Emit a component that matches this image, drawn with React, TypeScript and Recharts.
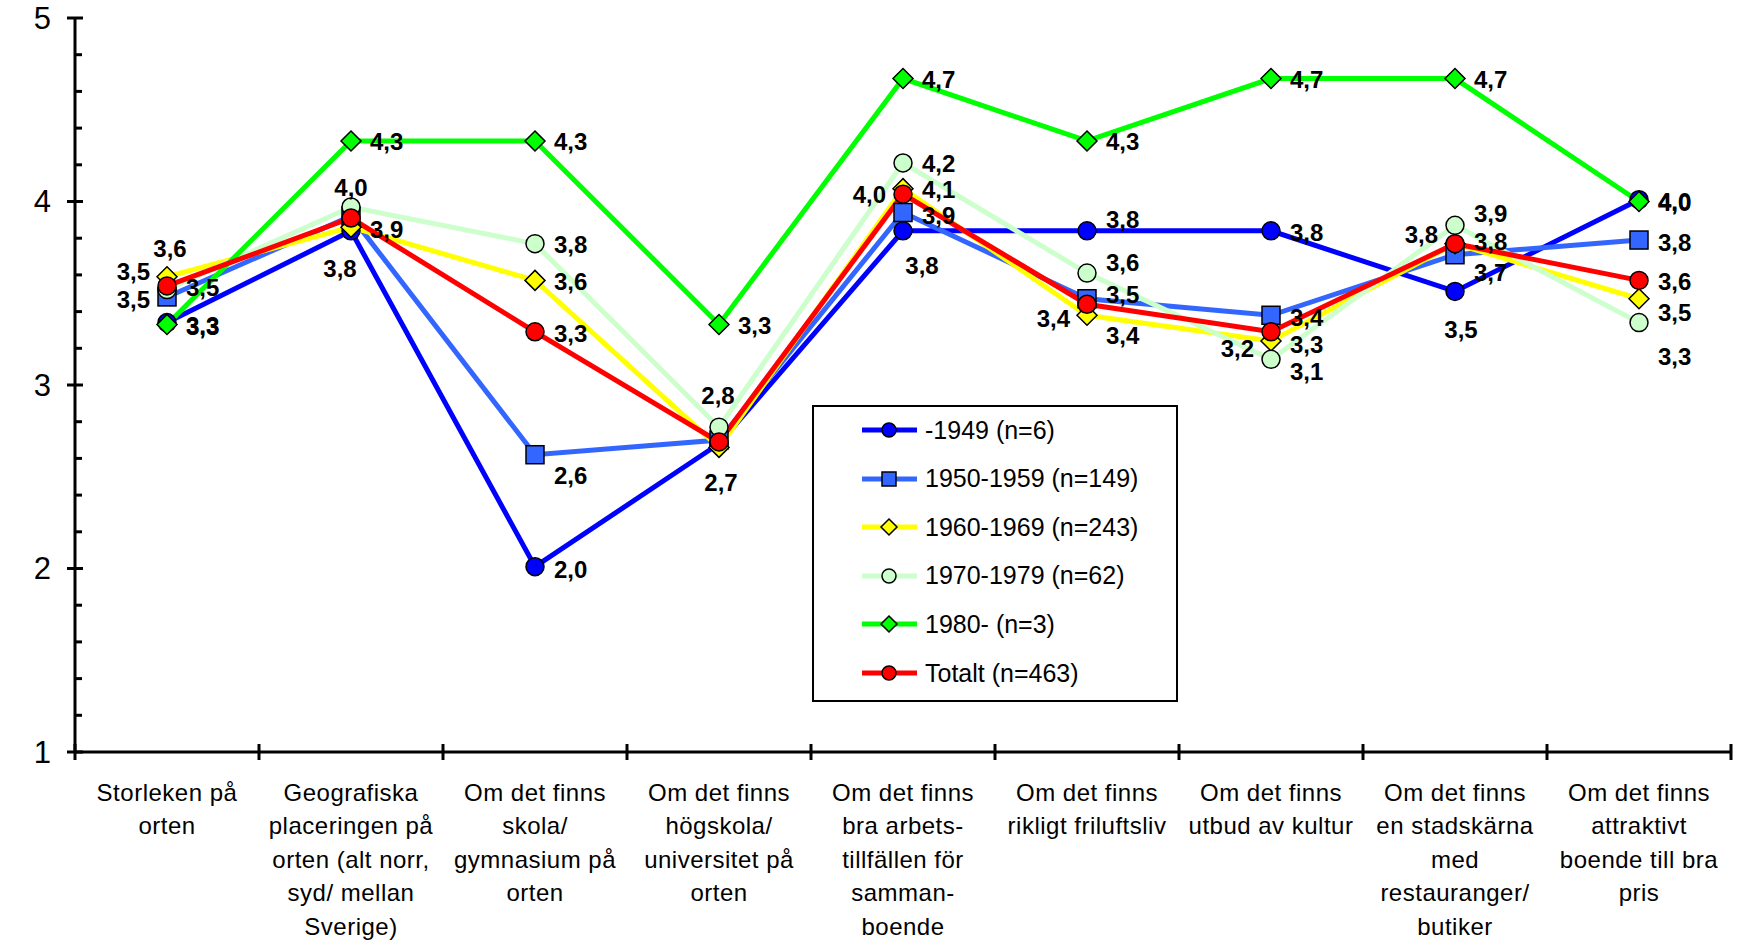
import { LineChart, Line, XAxis, YAxis, Legend } from "recharts";

// category labels, line breaks as in the original
const categories = [
  "Storleken på\norten",
  "Geografiska\nplaceringen på\norten (alt norr,\nsyd/ mellan\nSverige)",
  "Om det finns\nskola/\ngymnasium på\norten",
  "Om det finns\nhögskola/\nuniversitet på\norten",
  "Om det finns\nbra arbets-\ntillfällen för\nsamman-\nboende",
  "Om det finns\nrikligt friluftsliv",
  "Om det finns\nutbud av kultur",
  "Om det finns\nen stadskärna\nmed\nrestauranger/\nbutiker",
  "Om det finns\nattraktivt\nboende till bra\npris",
];

const born1949 = [3.34, 3.84, 2.01, 2.68, 3.84, 3.84, 3.84, 3.51, 4.01];
const born1950 = [3.48, 3.92, 2.62, 2.7, 3.94, 3.47, 3.38, 3.71, 3.79];
const born1960 = [3.59, 3.86, 3.57, 2.66, 4.07, 3.38, 3.24, 3.77, 3.47];
const born1970 = [3.52, 3.97, 3.77, 2.77, 4.21, 3.61, 3.14, 3.87, 3.34];
const born1980 = [3.33, 4.33, 4.33, 3.33, 4.67, 4.33, 4.67, 4.67, 4.0];
const total = [3.54, 3.91, 3.29, 2.69, 4.04, 3.44, 3.29, 3.77, 3.57];

const yTicks = [1, 1.2, 1.4, 1.6, 1.8, 2, 2.2, 2.4, 2.6, 2.8, 3, 3.2, 3.4, 3.6, 3.8, 4, 4.2, 4.4, 4.6, 4.8, 5];

type Shape = "circle" | "square" | "diamond";
// label placement: [anchor, dx, dy] or null when Excel hid it
type LabelPos = ["s" | "e" | "m", number, number] | null;

const R: LabelPos = ["s", 19, 1];

const series: {
  key: string;
  name: string;
  color: string;
  shape: Shape;
  values: number[];
  labels: LabelPos[];
}[] = [
  {
    key: "b1949", name: "-1949 (n=6)", color: "#0000FF", shape: "circle", values: born1949,
    labels: [["s", 19, 4], ["m", -11, 38], ["s", 19, 3], ["m", 2, 39], ["m", 19, 35], ["s", 19, -11], ["s", 19, 2], ["m", 6, 38], ["s", 19, 2]],
  },
  {
    key: "b1950", name: "1950-1959 (n=149)", color: "#3366FF", shape: "square", values: born1950,
    labels: [["e", -17, 3], ["s", 19, 13], ["s", 19, 21], null, ["s", 19, 3], ["s", 19, -4], ["s", 19, 2], ["s", 19, 18], ["s", 19, 2]],
  },
  {
    key: "b1960", name: "1960-1969 (n=243)", color: "#FFFF00", shape: "diamond", values: born1960,
    labels: [["m", 3, -28], null, R, null, R, ["s", 19, 20], ["e", -17, 8], ["e", -17, -9], ["s", 19, 14]],
  },
  {
    key: "b1970", name: "1970-1979 (n=62)", color: "#CCFFCC", shape: "circle", values: born1970,
    labels: [["e", -17, -18], ["m", 0, -20], R, ["m", -1, -32], R, ["s", 19, -11], ["s", 19, 12], ["s", 19, -12], ["s", 19, 34]],
  },
  {
    key: "b1980", name: "1980- (n=3)", color: "#00FF00", shape: "diamond", values: born1980,
    labels: [R, R, R, R, R, R, R, R, R],
  },
  {
    key: "total", name: "Totalt (n=463)", color: "#FF0000", shape: "circle", values: total,
    labels: [["s", 19, 2], null, ["s", 19, 2], null, ["e", -17, 0], ["e", -17, 14], ["s", 19, 13], ["s", 19, -2], R],
  },
];

const data = categories.map((category, i) => {
  const row: Record<string, string | number> = { category };
  series.forEach((s) => (row[s.key] = s.values[i]));
  return row;
});

const FONT = "'Liberation Sans', Arial, sans-serif";
const BAND = 184;

function Marker({ cx, cy, shape, fill, size }: { cx: number; cy: number; shape: Shape; fill: string; size: number }) {
  if (shape === "square") {
    return <rect x={cx - size} y={cy - size} width={size * 2} height={size * 2} fill={fill} stroke="#000" strokeWidth={1.5} />;
  }
  if (shape === "diamond") {
    const d = size + 1;
    return (
      <polygon
        points={`${cx},${cy - d} ${cx + d},${cy} ${cx},${cy + d} ${cx - d},${cy}`}
        fill={fill}
        stroke="#000"
        strokeWidth={1.5}
      />
    );
  }
  return <circle cx={cx} cy={cy} r={size} fill={fill} stroke="#000" strokeWidth={1.5} />;
}

const fmt = (v: number) => v.toFixed(1).replace(".", ",");

// eslint-disable-next-line @typescript-eslint/no-explicit-any
const XTick = (props: any) => {
  const { x, y, payload, index } = props;
  const lines = String(payload.value).split("\n");
  return (
    <g>
      <line x1={x - BAND / 2} x2={x - BAND / 2} y1={y - 8} y2={y + 8} stroke="#000" strokeWidth={3} />
      {index === categories.length - 1 && (
        <line x1={x + BAND / 2} x2={x + BAND / 2} y1={y - 8} y2={y + 8} stroke="#000" strokeWidth={3} />
      )}
      {lines.map((t, i) => (
        <text
          key={i}
          x={x}
          y={y + 40 + i * 33.5}
          textAnchor="middle"
          dominantBaseline="central"
          fontFamily={FONT}
          fontSize={24}
          letterSpacing={0.5}
          fill="#000"
        >
          {t}
        </text>
      ))}
    </g>
  );
};

// eslint-disable-next-line @typescript-eslint/no-explicit-any
const YTick = (props: any) => {
  const { x, y, payload } = props;
  const v = payload.value as number;
  const major = Math.abs(v - Math.round(v)) < 1e-6;
  if (!major) {
    return <line x1={x} x2={x + 7} y1={y} y2={y} stroke="#000" strokeWidth={3} />;
  }
  return (
    <g>
      <line x1={x - 8} x2={x + 8} y1={y} y2={y} stroke="#000" strokeWidth={3} />
      <text x={x - 24} y={y} textAnchor="end" dominantBaseline="central" fontFamily={FONT} fontSize={31} fill="#000">
        {Math.round(v)}
      </text>
    </g>
  );
};

const LegendBox = () => (
  <div
    style={{
      position: "relative",
      width: 366,
      height: 297,
      boxSizing: "border-box",
      border: "2px solid #000",
      background: "#fff",
      fontFamily: FONT,
      fontSize: 25,
      color: "#000",
    }}
  >
    {series.map((s, i) => (
      <div
        key={s.key}
        style={{ position: "absolute", left: 46, top: 23 + i * 48.6 - 20, height: 40, display: "flex", alignItems: "center" }}
      >
        <svg width={60} height={40} style={{ display: "block" }}>
          <line x1={2} x2={57} y1={20} y2={20} stroke={s.color} strokeWidth={5} />
          <Marker cx={29} cy={20} shape={s.shape} fill={s.color} size={7} />
        </svg>
        <span style={{ marginLeft: 5, whiteSpace: "nowrap" }}>{s.name}</span>
      </div>
    ))}
  </div>
);

export default function App() {
  return (
    <div style={{ position: "fixed", left: 0, top: 0, width: 1739, height: 940, background: "#fff" }}>
      <LineChart width={1739} height={940} data={data} margin={{ top: 18, right: 8, left: 0, bottom: 8 }}>
        <XAxis
          dataKey="category"
          scale="point"
          padding={{ left: BAND / 2, right: BAND / 2 }}
          axisLine={{ stroke: "#000", strokeWidth: 3 }}
          tickLine={false}
          tickSize={0}
          tickMargin={0}
          interval={0}
          height={180}
          tick={XTick}
        />
        <YAxis
          type="number"
          domain={[1, 5]}
          ticks={yTicks}
          interval={0}
          width={75}
          axisLine={{ stroke: "#000", strokeWidth: 3 }}
          tickLine={false}
          tickSize={0}
          tickMargin={0}
          tick={YTick}
        />
        <Legend
          verticalAlign="middle"
          align="center"
          layout="horizontal"
          content={() => <LegendBox />}
          wrapperStyle={{ position: "absolute", left: 812, top: 405, width: 366, height: 297 }}
        />
        {series.map((s) => (
          <Line
            key={s.key}
            dataKey={s.key}
            name={s.name}
            type="linear"
            stroke={s.color}
            strokeWidth={5}
            isAnimationActive={false}
            activeDot={false}
            // eslint-disable-next-line @typescript-eslint/no-explicit-any
            dot={(p: any) => (
              <Marker key={`${s.key}-${p.index}`} cx={p.cx} cy={p.cy} shape={s.shape} fill={s.color} size={9} />
            )}
          />
        ))}
        {/* value labels drawn last so they sit above every line */}
        {series.map((s) => (
          <Line
            key={`${s.key}-lbl`}
            dataKey={s.key}
            stroke="none"
            legendType="none"
            isAnimationActive={false}
            activeDot={false}
            // eslint-disable-next-line @typescript-eslint/no-explicit-any
            dot={(p: any) => {
              const pos = s.labels[p.index];
              if (!pos) return <g key={`${s.key}-l-${p.index}`} />;
              const [anchor, dx, dy] = pos;
              return (
                <text
                  key={`${s.key}-l-${p.index}`}
                  x={p.cx + dx}
                  y={p.cy + dy}
                  textAnchor={anchor === "s" ? "start" : anchor === "e" ? "end" : "middle"}
                  dominantBaseline="central"
                  fontFamily={FONT}
                  fontSize={24}
                  fontWeight="bold"
                  fill="#000"
                >
                  {fmt(s.values[p.index])}
                </text>
              );
            }}
          />
        ))}
      </LineChart>
    </div>
  );
}
